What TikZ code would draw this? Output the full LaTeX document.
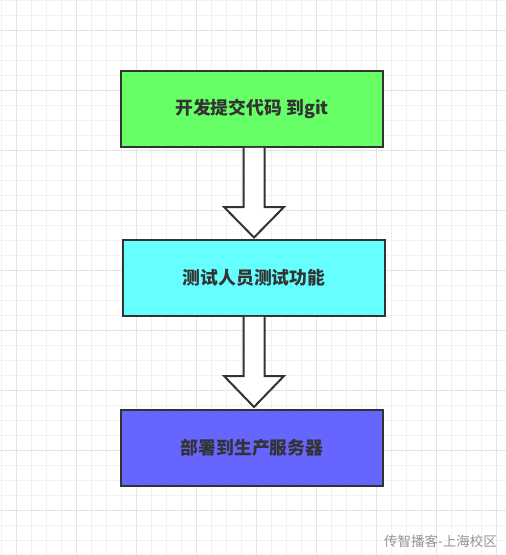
\documentclass[tikz,border=0pt]{standalone}
\usepackage{fontspec}
\newfontfamily\cjk{Noto Sans CJK SC}
\usetikzlibrary{calc}
\definecolor{gridminor}{HTML}{F1F1F1}
\definecolor{gridmajor}{HTML}{E4E4E4}
\definecolor{ink}{HTML}{333333}
\definecolor{cgreen}{HTML}{66FF66}
\definecolor{ccyan}{HTML}{66FFFF}
\definecolor{cblue}{HTML}{6666FF}
\tikzset{
  stepbox/.style={draw=ink, line width=2pt, minimum width=262pt, minimum height=75.5pt,
    inner sep=0pt, font=\cjk\bfseries\fontsize{17.8}{20}\selectfont, text=ink},
  blockarr/.style={draw=ink, line width=2pt, fill=white, line join=miter},
  minorline/.style={gridminor, line width=1pt},
  majorline/.style={gridmajor, line width=1pt}
}
\begin{document}
\begin{tikzpicture}[x=1pt,y=-1pt]
\useasboundingbox[fill=white] (0,0) rectangle (506,555);
% grid
\foreach \k in {0,...,33} {
  \pgfmathsetmacro{\xx}{1+15*\k}
  \draw[minorline] (\xx,0) -- (\xx,555);
}
\foreach \k in {0,...,37} {
  \pgfmathsetmacro{\yy}{15*\k}
  \draw[minorline] (0,\yy) -- (506,\yy);
}
\foreach \xx in {16,76,...,496} { \draw[majorline] (\xx,0) -- (\xx,555); }
\foreach \yy in {30,90,...,550} { \draw[majorline] (0,\yy) -- (506,\yy); }
% boxes
\node[stepbox, fill=cgreen] (b1) at (252,109) {开发提交代码 到git};
\node[stepbox, fill=ccyan] (b2) at (254,278) {测试人员测试功能};
\node[stepbox, fill=cblue] (b3) at (252,448) {部署到生产服务器};
% block arrows
\coordinate (t1) at (254,237.5);
\coordinate (t2) at (254,407);
\draw[blockarr] (243.5,|-b1.south) -- (243.5,207) -- (224,207) -- (t1) -- (284,207) -- (264.5,207) -- (264.5,|-b1.south);
\draw[blockarr] (243.5,|-b2.south) -- (243.5,376) -- (224,376) -- (t2) -- (284,376) -- (264.5,376) -- (264.5,|-b2.south);
% watermark
\node[anchor=east, inner sep=0pt, text=black!42, font=\cjk\fontsize{13.5}{15}\selectfont] (wm) at (497,541) {传智播客-上海校区};
\end{tikzpicture}
\end{document}
